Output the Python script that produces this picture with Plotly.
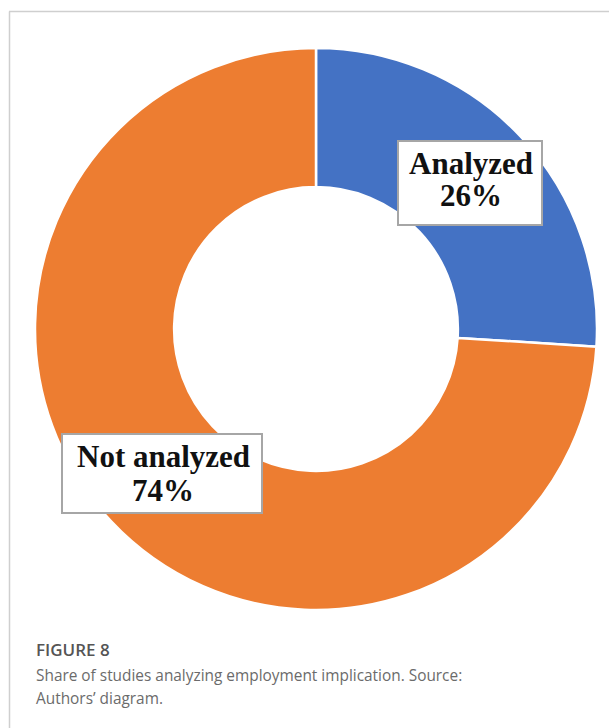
import plotly.graph_objects as go

W, H = 609, 728
labels = ["Analyzed", "Not analyzed"]
values = [26, 74]
colors = ["#4472C4", "#ED7D31"]
pct_text = ["26%", "74%"]

def px(x):
    return x / W

def py(y):
    return 1 - y / H

fig = go.Figure()
fig.add_trace(go.Pie(
    labels=labels, values=values, hole=0.505, sort=False,
    direction="clockwise", rotation=0,
    marker=dict(colors=colors, line=dict(color="white", width=2.5)),
    textinfo="none", hoverinfo="label+percent", showlegend=False,
    domain=dict(x=[px(35), px(597)], y=[py(610), py(48)]),
))

shapes = [
    dict(type="line", xref="paper", yref="paper", x0=px(9), x1=1.0, y0=py(11.5), y1=py(11.5),
         line=dict(color="#cfcfcf", width=1.5)),
    dict(type="line", xref="paper", yref="paper", x0=px(9.5), x1=px(9.5), y0=py(11.5), y1=0,
         line=dict(color="#cfcfcf", width=1.5)),
    dict(type="rect", xref="paper", yref="paper", x0=px(398), x1=px(542), y0=py(225), y1=py(141),
         fillcolor="white", line=dict(color="#a6a6a6", width=2)),
    dict(type="rect", xref="paper", yref="paper", x0=px(62), x1=px(262), y0=py(513), y1=py(434),
         fillcolor="white", line=dict(color="#a6a6a6", width=2)),
]

lab_font = dict(family="Liberation Serif", size=31, color="#111111", weight="bold")
annotations = [
    dict(text=labels[0], x=px(471), y=py(163), xref="paper", yref="paper",
         showarrow=False, font=lab_font, xanchor="center", yanchor="middle"),
    dict(text=pct_text[0], x=px(471), y=py(196), xref="paper", yref="paper",
         showarrow=False, font=lab_font, xanchor="center", yanchor="middle"),
    dict(text=labels[1], x=px(163), y=py(456), xref="paper", yref="paper",
         showarrow=False, font=lab_font, xanchor="center", yanchor="middle"),
    dict(text=pct_text[1], x=px(163), y=py(490), xref="paper", yref="paper",
         showarrow=False, font=lab_font, xanchor="center", yanchor="middle"),
    dict(text="FIGURE 8", x=px(34), y=py(649), xref="paper", yref="paper",
         showarrow=False, xanchor="left", yanchor="middle",
         font=dict(family="Open Sans", size=17, color="#555555", weight=600)),
    dict(text="Share of studies analyzing employment implication. Source:",
         x=px(34), y=py(675), xref="paper", yref="paper",
         showarrow=False, xanchor="left", yanchor="middle",
         font=dict(family="Open Sans", size=15.4, color="#6b6b6b")),
    dict(text="Authors’ diagram.", x=px(34), y=py(698), xref="paper", yref="paper",
         showarrow=False, xanchor="left", yanchor="middle",
         font=dict(family="Open Sans", size=15.4, color="#6b6b6b")),
]

fig.update_layout(
    width=W, height=H, margin=dict(l=0, r=0, t=0, b=0),
    paper_bgcolor="white", plot_bgcolor="white",
    shapes=shapes, annotations=annotations, showlegend=False,
)

fig.write_html("out.html")
